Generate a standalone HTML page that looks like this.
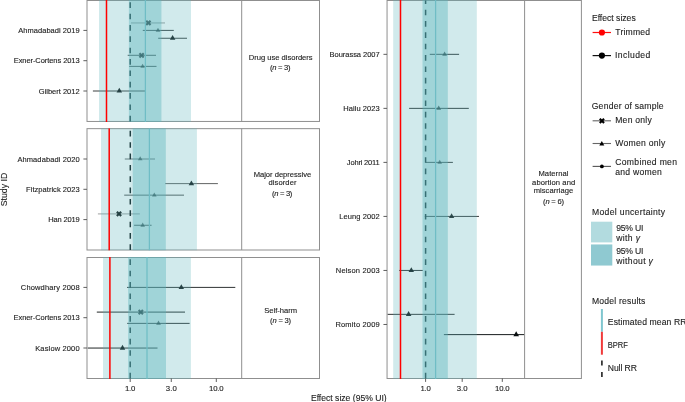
<!DOCTYPE html>
<html><head><meta charset="utf-8"><style>
html,body{margin:0;padding:0;background:#fff;width:685px;height:402px;overflow:hidden;position:relative}
svg text{font-family:"Liberation Sans", sans-serif;stroke:#1c1c1c;stroke-width:0.12px;paint-order:stroke}
svg{will-change:transform}
</style></head><body>
<svg width="685" height="402" viewBox="0 0 685 402" style="position:absolute;left:0;top:0" font-family='"Liberation Sans", sans-serif'>
<rect x="0" y="0" width="685" height="402" fill="#fff"/>
<rect x="87.00" y="0.50" width="232.50" height="120.95" fill="none" stroke="#8f8f8f" stroke-width="1"/>
<line x1="241.70" y1="0.50" x2="241.70" y2="121.45" stroke="#8f8f8f" stroke-width="1" />
<clipPath id="c0"><rect x="87.30" y="0.00" width="154.40" height="121.95"/></clipPath>
<clipPath id="d0"><rect x="87.50" y="1.00" width="153.70" height="119.95"/></clipPath>
<g clip-path="url(#d0)">
<line x1="131.00" y1="22.95" x2="165.00" y2="22.95" stroke="#0a0f10" stroke-width="1.0" stroke-opacity="0.4" />
<line x1="142.80" y1="30.40" x2="173.80" y2="30.40" stroke="#0a0f10" stroke-width="1.0" stroke-opacity="0.8" />
<line x1="158.20" y1="38.25" x2="187.00" y2="38.25" stroke="#0a0f10" stroke-width="1.0" stroke-opacity="0.8" />
<line x1="127.70" y1="55.30" x2="156.00" y2="55.30" stroke="#0a0f10" stroke-width="1.0" stroke-opacity="0.75" />
<line x1="129.20" y1="66.38" x2="156.50" y2="66.38" stroke="#0a0f10" stroke-width="1.0" stroke-opacity="0.75" />
<line x1="92.90" y1="91.00" x2="145.40" y2="91.00" stroke="#0a0f10" stroke-width="1.0" stroke-opacity="0.8" />
</g>
<g clip-path="url(#c0)">
<line x1="130.20" y1="121.45" x2="130.20" y2="0.50" stroke="#0a1415" stroke-width="1.5" stroke-dasharray="5.67 5.68"/>
<path d="M146.25,20.80L150.55,25.10M150.55,20.80L146.25,25.10" stroke="#0a0f10" stroke-width="2.1" fill="none" stroke-opacity="0.85"/>
<polygon points="158.00,27.69 155.70,31.76 160.30,31.76" fill="#0a0f10" fill-opacity="0.7"/>
<polygon points="172.60,35.01 169.85,39.87 175.35,39.87" fill="#0a0f10" fill-opacity="0.95"/>
<path d="M139.45,53.15L143.75,57.45M143.75,53.15L139.45,57.45" stroke="#0a0f10" stroke-width="2.1" fill="none" stroke-opacity="0.85"/>
<polygon points="142.60,63.67 140.30,67.74 144.90,67.74" fill="#0a0f10" fill-opacity="0.7"/>
<polygon points="119.30,87.75 116.55,92.62 122.05,92.62" fill="#0a0f10" fill-opacity="0.95"/>
<rect x="99.00" y="0.00" width="92.00" height="121.95" fill="#5bb3bb" fill-opacity="0.28"/>
<rect x="128.90" y="0.00" width="32.50" height="121.95" fill="#5bb3bb" fill-opacity="0.41"/>
<line x1="145.40" y1="0.00" x2="145.40" y2="121.95" stroke="#6fbdc5" stroke-width="1.25" />
<line x1="106.50" y1="0.00" x2="106.50" y2="121.95" stroke="#ff0000" stroke-width="1.5" />
</g>
<line x1="83.40" y1="30.40" x2="87.00" y2="30.40" stroke="#5e5e5e" stroke-width="1" />
<text x="18.30" y="33.10" font-size="7.5" fill="#1c1c1c" textLength="61.30" lengthAdjust="spacing" >Ahmadabadi 2019</text>
<line x1="83.40" y1="60.70" x2="87.00" y2="60.70" stroke="#5e5e5e" stroke-width="1" />
<text x="13.70" y="63.40" font-size="7.5" fill="#1c1c1c" textLength="65.90" lengthAdjust="spacing" >Exner-Cortens 2013</text>
<line x1="83.40" y1="91.00" x2="87.00" y2="91.00" stroke="#5e5e5e" stroke-width="1" />
<text x="38.80" y="93.70" font-size="7.5" fill="#1c1c1c" textLength="40.80" lengthAdjust="spacing" >Gilbert 2012</text>
<text x="248.80" y="59.80" font-size="7.6" fill="#1c1c1c" textLength="63.80" lengthAdjust="spacing" >Drug use disorders</text>
<text x="270.05" y="69.90" font-size="7.6" fill="#1c1c1c" textLength="20.50" lengthAdjust="spacing" >(<tspan font-style="italic">n</tspan> = 3)</text>
<rect x="87.00" y="128.65" width="232.50" height="121.35" fill="none" stroke="#8f8f8f" stroke-width="1"/>
<line x1="241.70" y1="128.65" x2="241.70" y2="250.00" stroke="#8f8f8f" stroke-width="1" />
<clipPath id="c1"><rect x="87.30" y="128.15" width="154.40" height="122.35"/></clipPath>
<clipPath id="d1"><rect x="87.50" y="129.15" width="153.70" height="120.35"/></clipPath>
<g clip-path="url(#d1)">
<line x1="124.80" y1="159.00" x2="155.00" y2="159.00" stroke="#0a0f10" stroke-width="1.0" stroke-opacity="0.6" />
<line x1="165.20" y1="183.62" x2="217.90" y2="183.62" stroke="#0a0f10" stroke-width="1.0" stroke-opacity="0.65" />
<line x1="124.20" y1="195.15" x2="184.00" y2="195.15" stroke="#0a0f10" stroke-width="1.0" stroke-opacity="0.7" />
<line x1="97.90" y1="213.92" x2="139.80" y2="213.92" stroke="#0a0f10" stroke-width="1.0" stroke-opacity="0.4" />
<line x1="134.10" y1="225.28" x2="151.60" y2="225.28" stroke="#0a0f10" stroke-width="1.0" stroke-opacity="0.75" />
</g>
<g clip-path="url(#c1)">
<line x1="130.30" y1="250.00" x2="130.30" y2="128.65" stroke="#0a1415" stroke-width="1.5" stroke-dasharray="5.67 5.68"/>
<polygon points="140.20,156.29 137.90,160.36 142.50,160.36" fill="#0a0f10" fill-opacity="0.7"/>
<polygon points="191.40,180.38 188.65,185.24 194.15,185.24" fill="#0a0f10" fill-opacity="0.95"/>
<polygon points="154.30,192.44 152.00,196.51 156.60,196.51" fill="#0a0f10" fill-opacity="0.7"/>
<path d="M116.85,211.77L121.15,216.07M121.15,211.77L116.85,216.07" stroke="#0a0f10" stroke-width="2.1" fill="none" stroke-opacity="0.97"/>
<polygon points="142.70,222.57 140.40,226.64 145.00,226.64" fill="#0a0f10" fill-opacity="0.7"/>
<rect x="101.00" y="128.15" width="95.90" height="122.35" fill="#5bb3bb" fill-opacity="0.28"/>
<rect x="132.70" y="128.15" width="33.10" height="122.35" fill="#5bb3bb" fill-opacity="0.41"/>
<line x1="149.40" y1="128.15" x2="149.40" y2="250.50" stroke="#6fbdc5" stroke-width="1.25" />
<line x1="109.20" y1="128.15" x2="109.20" y2="250.50" stroke="#ff0000" stroke-width="1.5" />
</g>
<line x1="83.40" y1="159.00" x2="87.00" y2="159.00" stroke="#5e5e5e" stroke-width="1" />
<text x="17.40" y="161.70" font-size="7.5" fill="#1c1c1c" textLength="62.20" lengthAdjust="spacing" >Ahmadabadi 2020</text>
<line x1="83.40" y1="189.30" x2="87.00" y2="189.30" stroke="#5e5e5e" stroke-width="1" />
<text x="26.10" y="192.00" font-size="7.5" fill="#1c1c1c" textLength="53.50" lengthAdjust="spacing" >Fitzpatrick 2023</text>
<line x1="83.40" y1="219.60" x2="87.00" y2="219.60" stroke="#5e5e5e" stroke-width="1" />
<text x="48.30" y="222.30" font-size="7.5" fill="#1c1c1c" textLength="31.30" lengthAdjust="spacing" >Han 2019</text>
<text x="253.70" y="177.10" font-size="7.6" fill="#1c1c1c" textLength="57.50" lengthAdjust="spacing" >Major depressive</text>
<text x="268.50" y="184.70" font-size="7.6" fill="#1c1c1c" textLength="28.00" lengthAdjust="spacing" >disorder</text>
<text x="272.00" y="195.50" font-size="7.6" fill="#1c1c1c" textLength="20.40" lengthAdjust="spacing" >(<tspan font-style="italic">n</tspan> = 3)</text>
<rect x="87.00" y="257.50" width="232.50" height="121.00" fill="none" stroke="#8f8f8f" stroke-width="1"/>
<line x1="241.70" y1="257.50" x2="241.70" y2="378.50" stroke="#8f8f8f" stroke-width="1" />
<clipPath id="c2"><rect x="87.30" y="257.00" width="154.40" height="122.00"/></clipPath>
<clipPath id="d2"><rect x="87.50" y="258.00" width="153.70" height="120.00"/></clipPath>
<g clip-path="url(#d2)">
<line x1="127.00" y1="287.40" x2="235.30" y2="287.40" stroke="#0a0f10" stroke-width="1.0" stroke-opacity="0.85" />
<line x1="96.80" y1="312.10" x2="185.00" y2="312.10" stroke="#0a0f10" stroke-width="1.0" stroke-opacity="0.9" />
<line x1="127.20" y1="323.38" x2="189.60" y2="323.38" stroke="#0a0f10" stroke-width="1.0" stroke-opacity="0.85" />
<line x1="87.50" y1="348.05" x2="157.50" y2="348.05" stroke="#0a0f10" stroke-width="1.0" stroke-opacity="0.9" />
</g>
<g clip-path="url(#c2)">
<line x1="130.20" y1="378.50" x2="130.20" y2="257.50" stroke="#0a1415" stroke-width="1.5" stroke-dasharray="5.67 5.68"/>
<polygon points="181.30,284.15 178.55,289.02 184.05,289.02" fill="#0a0f10" fill-opacity="0.95"/>
<path d="M138.65,309.95L142.95,314.25M142.95,309.95L138.65,314.25" stroke="#0a0f10" stroke-width="2.1" fill="none" stroke-opacity="0.85"/>
<polygon points="158.50,320.56 156.11,324.79 160.89,324.79" fill="#0a0f10" fill-opacity="0.75"/>
<polygon points="122.50,344.81 119.75,349.67 125.25,349.67" fill="#0a0f10" fill-opacity="0.95"/>
<rect x="103.00" y="257.00" width="87.90" height="122.00" fill="#5bb3bb" fill-opacity="0.28"/>
<rect x="128.10" y="257.00" width="37.90" height="122.00" fill="#5bb3bb" fill-opacity="0.41"/>
<line x1="147.00" y1="257.00" x2="147.00" y2="379.00" stroke="#6fbdc5" stroke-width="1.25" />
<line x1="109.90" y1="257.00" x2="109.90" y2="379.00" stroke="#ff0000" stroke-width="1.5" />
</g>
<line x1="83.40" y1="287.40" x2="87.00" y2="287.40" stroke="#5e5e5e" stroke-width="1" />
<text x="20.80" y="290.10" font-size="7.5" fill="#1c1c1c" textLength="58.80" lengthAdjust="spacing" >Chowdhary 2008</text>
<line x1="83.40" y1="317.70" x2="87.00" y2="317.70" stroke="#5e5e5e" stroke-width="1" />
<text x="13.50" y="320.40" font-size="7.5" fill="#1c1c1c" textLength="66.10" lengthAdjust="spacing" >Exner-Cortens 2013</text>
<line x1="83.40" y1="348.00" x2="87.00" y2="348.00" stroke="#5e5e5e" stroke-width="1" />
<text x="35.20" y="350.70" font-size="7.5" fill="#1c1c1c" textLength="44.40" lengthAdjust="spacing" >Kaslow 2000</text>
<text x="264.20" y="313.40" font-size="7.6" fill="#1c1c1c" textLength="32.90" lengthAdjust="spacing" >Self-harm</text>
<text x="270.10" y="322.60" font-size="7.6" fill="#1c1c1c" textLength="21.00" lengthAdjust="spacing" >(<tspan font-style="italic">n</tspan> = 3)</text>
<rect x="387.05" y="0.50" width="194.35" height="378.00" fill="none" stroke="#8f8f8f" stroke-width="1"/>
<line x1="524.60" y1="0.50" x2="524.60" y2="378.50" stroke="#8f8f8f" stroke-width="1" />
<clipPath id="c3"><rect x="387.35" y="0.00" width="137.25" height="379.00"/></clipPath>
<clipPath id="d3"><rect x="387.55" y="1.00" width="136.55" height="377.00"/></clipPath>
<g clip-path="url(#d3)">
<line x1="429.80" y1="54.33" x2="459.10" y2="54.33" stroke="#0a0f10" stroke-width="1.0" stroke-opacity="0.85" />
<line x1="409.10" y1="108.36" x2="468.80" y2="108.36" stroke="#0a0f10" stroke-width="1.0" stroke-opacity="0.85" />
<line x1="425.50" y1="162.39" x2="452.90" y2="162.39" stroke="#0a0f10" stroke-width="1.0" stroke-opacity="0.8" />
<line x1="424.80" y1="216.42" x2="479.00" y2="216.42" stroke="#0a0f10" stroke-width="1.0" stroke-opacity="0.8" />
<line x1="399.20" y1="270.45" x2="422.80" y2="270.45" stroke="#0a0f10" stroke-width="1.0" stroke-opacity="0.85" />
<line x1="387.30" y1="314.35" x2="454.60" y2="314.35" stroke="#0a0f10" stroke-width="1.0" stroke-opacity="0.85" />
<line x1="443.90" y1="334.61" x2="524.60" y2="334.61" stroke="#0a0f10" stroke-width="1.0" stroke-opacity="0.95" />
</g>
<g clip-path="url(#c3)">
<line x1="425.60" y1="378.50" x2="425.60" y2="0.50" stroke="#0a1415" stroke-width="1.5" stroke-dasharray="5.67 5.68"/>
<polygon points="444.60,51.51 442.21,55.74 446.99,55.74" fill="#0a0f10" fill-opacity="0.75"/>
<polygon points="438.70,105.43 436.22,109.82 441.18,109.82" fill="#0a0f10" fill-opacity="0.8"/>
<polygon points="439.70,159.68 437.40,163.75 442.00,163.75" fill="#0a0f10" fill-opacity="0.7"/>
<polygon points="451.60,213.28 448.94,217.99 454.26,217.99" fill="#0a0f10" fill-opacity="0.9"/>
<polygon points="411.30,267.20 408.55,272.07 414.05,272.07" fill="#0a0f10" fill-opacity="0.95"/>
<polygon points="408.60,311.11 405.85,315.97 411.35,315.97" fill="#0a0f10" fill-opacity="0.95"/>
<polygon points="516.20,331.26 513.36,336.29 519.04,336.29" fill="#0a0f10"/>
<rect x="393.20" y="0.00" width="83.60" height="379.00" fill="#5bb3bb" fill-opacity="0.28"/>
<rect x="422.50" y="0.00" width="25.30" height="379.00" fill="#5bb3bb" fill-opacity="0.41"/>
<line x1="435.60" y1="0.00" x2="435.60" y2="379.00" stroke="#6fbdc5" stroke-width="1.25" />
<line x1="400.50" y1="0.00" x2="400.50" y2="379.00" stroke="#ff0000" stroke-width="1.5" />
</g>
<line x1="383.45" y1="54.33" x2="387.05" y2="54.33" stroke="#5e5e5e" stroke-width="1" />
<text x="329.55" y="57.03" font-size="7.5" fill="#1c1c1c" textLength="50.10" lengthAdjust="spacing" >Bourassa 2007</text>
<line x1="383.45" y1="108.36" x2="387.05" y2="108.36" stroke="#5e5e5e" stroke-width="1" />
<text x="343.25" y="111.06" font-size="7.5" fill="#1c1c1c" textLength="36.40" lengthAdjust="spacing" >Hailu 2023</text>
<line x1="383.45" y1="162.39" x2="387.05" y2="162.39" stroke="#5e5e5e" stroke-width="1" />
<text x="346.85" y="165.09" font-size="7.5" fill="#1c1c1c" textLength="32.80" lengthAdjust="spacing" >Johri 2011</text>
<line x1="383.45" y1="216.42" x2="387.05" y2="216.42" stroke="#5e5e5e" stroke-width="1" />
<text x="339.25" y="219.12" font-size="7.5" fill="#1c1c1c" textLength="40.40" lengthAdjust="spacing" >Leung 2002</text>
<line x1="383.45" y1="270.45" x2="387.05" y2="270.45" stroke="#5e5e5e" stroke-width="1" />
<text x="335.85" y="273.15" font-size="7.5" fill="#1c1c1c" textLength="43.80" lengthAdjust="spacing" >Nelson 2003</text>
<line x1="383.45" y1="324.48" x2="387.05" y2="324.48" stroke="#5e5e5e" stroke-width="1" />
<text x="335.45" y="327.18" font-size="7.5" fill="#1c1c1c" textLength="44.20" lengthAdjust="spacing" >Romito 2009</text>
<text x="538.50" y="176.00" font-size="7.6" fill="#1c1c1c" textLength="29.90" lengthAdjust="spacing" >Maternal</text>
<text x="532.10" y="184.60" font-size="7.6" fill="#1c1c1c" textLength="43.10" lengthAdjust="spacing" >abortion and</text>
<text x="533.70" y="193.40" font-size="7.6" fill="#1c1c1c" textLength="39.50" lengthAdjust="spacing" >miscarriage</text>
<text x="543.10" y="203.50" font-size="7.6" fill="#1c1c1c" textLength="20.90" lengthAdjust="spacing" >(<tspan font-style="italic">n</tspan> = 6)</text>
<line x1="130.20" y1="378.40" x2="130.20" y2="382.00" stroke="#5e5e5e" stroke-width="1" />
<text x="125.00" y="390.95" font-size="7.8" fill="#1c1c1c" textLength="10.40" lengthAdjust="spacing" >1.0</text>
<line x1="171.28" y1="378.40" x2="171.28" y2="382.00" stroke="#5e5e5e" stroke-width="1" />
<text x="165.83" y="390.95" font-size="7.8" fill="#1c1c1c" textLength="10.90" lengthAdjust="spacing" >3.0</text>
<line x1="216.30" y1="378.40" x2="216.30" y2="382.00" stroke="#5e5e5e" stroke-width="1" />
<text x="209.00" y="390.95" font-size="7.8" fill="#1c1c1c" textLength="14.60" lengthAdjust="spacing" >10.0</text>
<line x1="425.60" y1="378.30" x2="425.60" y2="381.90" stroke="#5e5e5e" stroke-width="1" />
<text x="420.40" y="390.85" font-size="7.8" fill="#1c1c1c" textLength="10.40" lengthAdjust="spacing" >1.0</text>
<line x1="462.20" y1="378.30" x2="462.20" y2="381.90" stroke="#5e5e5e" stroke-width="1" />
<text x="456.75" y="390.85" font-size="7.8" fill="#1c1c1c" textLength="10.90" lengthAdjust="spacing" >3.0</text>
<line x1="502.30" y1="378.30" x2="502.30" y2="381.90" stroke="#5e5e5e" stroke-width="1" />
<text x="495.00" y="390.85" font-size="7.8" fill="#1c1c1c" textLength="14.60" lengthAdjust="spacing" >10.0</text>
<text x="310.90" y="400.60" font-size="8.6" fill="#1c1c1c" textLength="75.80" lengthAdjust="spacing" >Effect size (95% UI)</text>
<text transform="translate(6.6,189.5) rotate(-90)" font-size="8.7" fill="#1c1c1c" x="-16.80" y="0" textLength="33.6" lengthAdjust="spacing">Study ID</text>
<text x="591.90" y="20.70" font-size="8.6" fill="#1c1c1c" textLength="43.80" lengthAdjust="spacing" >Effect sizes</text>
<line x1="592.60" y1="32.50" x2="611.00" y2="32.50" stroke="#ff1010" stroke-width="1.2" />
<circle cx="601.90" cy="32.50" r="3.1" fill="#ff0000"/>
<text x="615.30" y="34.70" font-size="8.6" fill="#1c1c1c" textLength="34.80" lengthAdjust="spacing" >Trimmed</text>
<line x1="592.60" y1="55.60" x2="611.00" y2="55.60" stroke="#111" stroke-width="1.2" />
<circle cx="601.90" cy="55.60" r="3.1" fill="#000"/>
<text x="615.00" y="57.80" font-size="8.6" fill="#1c1c1c" textLength="35.30" lengthAdjust="spacing" >Included</text>
<text x="591.70" y="109.20" font-size="8.6" fill="#1c1c1c" textLength="71.90" lengthAdjust="spacing" >Gender of sample</text>
<line x1="592.60" y1="120.80" x2="611.00" y2="120.80" stroke="#666" stroke-width="1.1" />
<path d="M599.75,118.65L604.05,122.95M604.05,118.65L599.75,122.95" stroke="#000" stroke-width="2.1" fill="none"/>
<text x="615.20" y="123.30" font-size="8.6" fill="#1c1c1c" textLength="36.60" lengthAdjust="spacing" >Men only</text>
<line x1="592.60" y1="143.50" x2="611.00" y2="143.50" stroke="#666" stroke-width="1.1" />
<polygon points="601.80,140.95 599.30,145.38 604.30,145.38" fill="#000"/>
<text x="615.20" y="145.90" font-size="8.6" fill="#1c1c1c" textLength="50.10" lengthAdjust="spacing" >Women only</text>
<line x1="592.60" y1="166.40" x2="611.00" y2="166.40" stroke="#555" stroke-width="1.1" />
<circle cx="601.90" cy="166.40" r="1.9" fill="#000"/>
<text x="615.20" y="165.30" font-size="8.6" fill="#1c1c1c" textLength="61.80" lengthAdjust="spacing" >Combined men</text>
<text x="615.20" y="175.30" font-size="8.6" fill="#1c1c1c" textLength="46.70" lengthAdjust="spacing" >and women</text>
<text x="592.00" y="214.90" font-size="8.6" fill="#1c1c1c" textLength="73.10" lengthAdjust="spacing" >Model uncertainty</text>
<rect x="591.00" y="221.70" width="21.30" height="20.70" fill="#b2dbdf"/>
<rect x="591.00" y="244.45" width="21.30" height="21.10" fill="#8fc9d1"/>
<text x="616.20" y="230.90" font-size="8.6" fill="#1c1c1c" textLength="27.10" lengthAdjust="spacing" >95% UI</text>
<text x="616.20" y="240.50" font-size="8.6" fill="#1c1c1c" textLength="23.90" lengthAdjust="spacing" >with <tspan font-style="italic">γ</tspan></text>
<text x="616.20" y="253.60" font-size="8.6" fill="#1c1c1c" textLength="27.10" lengthAdjust="spacing" >95% UI</text>
<text x="616.20" y="263.60" font-size="8.6" fill="#1c1c1c" textLength="36.70" lengthAdjust="spacing" >without <tspan font-style="italic">γ</tspan></text>
<text x="592.00" y="303.70" font-size="8.6" fill="#1c1c1c" textLength="53.40" lengthAdjust="spacing" >Model results</text>
<line x1="601.90" y1="309.00" x2="601.90" y2="331.80" stroke="#7fc6cf" stroke-width="2.0" />
<line x1="601.90" y1="331.80" x2="601.90" y2="354.70" stroke="#f03a3a" stroke-width="2.0" />
<line x1="601.90" y1="360.60" x2="601.90" y2="378.00" stroke="#222" stroke-width="1.6" stroke-dasharray="5 6.4"/>
<text x="607.80" y="325.30" font-size="8.6" fill="#1c1c1c" textLength="78.70" lengthAdjust="spacing" >Estimated mean RR</text>
<text x="607.8" y="348.2" font-size="8.5" fill="#1c1c1c" textLength="20.1" lengthAdjust="spacingAndGlyphs">BPRF</text>
<text x="607.80" y="371.40" font-size="8.6" fill="#1c1c1c" textLength="29.10" lengthAdjust="spacing" >Null RR</text>
</svg>
</body></html>
